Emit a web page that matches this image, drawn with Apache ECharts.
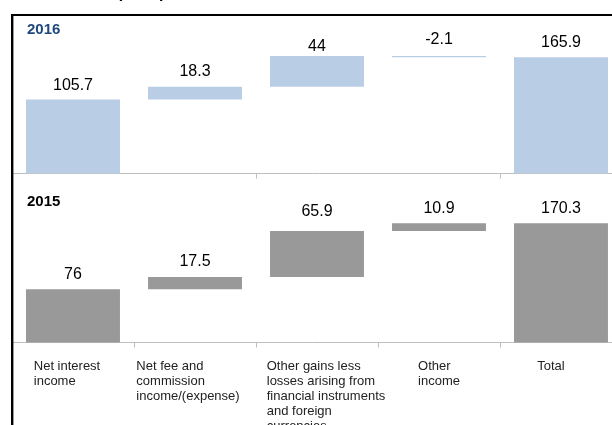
<!DOCTYPE html>
<html>
<head>
<meta charset="utf-8">
<script src="https://cdn.jsdelivr.net/npm/echarts@6/dist/echarts.min.js"></script>
<style>
html,body{margin:0;padding:0;background:#fff;}
#chart{width:612px;height:425px;}
</style>
</head>
<body>
<div id="chart"></div>
<script>
const categories = [
  'Net interest\nincome',
  'Net fee and\ncommission\nincome/(expense)',
  'Other gains less\nlosses arising from\nfinancial instruments\nand foreign\ncurrencies',
  'Other\nincome',
  'Total'
];
const values2016 = [105.7, 18.3, 44, -2.1, 165.9];
const values2015 = [76, 17.5, 65.9, 10.9, 170.3];
const panelTitles = ['2016', '2015'];

function waterfall(vals) {
  const base = [], height = [];
  let run = 0;
  vals.forEach((v, i) => {
    if (i === vals.length - 1) { base.push(0); height.push(v); }
    else {
      const next = run + v;
      base.push(Math.min(run, next));
      height.push(Math.abs(v));
      run = next;
    }
  });
  return { base, height };
}

const font = 'Liberation Sans, Arial, sans-serif';
const w16 = waterfall(values2016);
const w15 = waterfall(values2015);
// label styling tweaks (pixels)
const labelOffsets16 = [1, 0, 6, -1, 0];
const labelOffsets15 = [0, 0, -4, 0, 0];
const catLabelShift = [-6, -7, 9, 0, -10];

function visibleData(h, vals, offs) {
  return h.map((v, i) => ({
    value: v,
    label: { offset: [0, offs[i]], formatter: String(vals[i]) }
  }));
}

const rich = {};
catLabelShift.forEach((s, i) => {
  rich['c' + i] = {
    align: 'left', fontSize: 13, lineHeight: 15, color: '#222', fontFamily: font,
    padding: [0, s < 0 ? -2 * s : 0, 0, s > 0 ? 2 * s : 0]
  };
});

const axisCommon = {
  type: 'category',
  data: categories,
  axisLine: { lineStyle: { color: '#BFBFBF', width: 1 } },
  axisTick: { show: true, length: 5, lineStyle: { color: '#BFBFBF' } },
  splitLine: { show: false }
};

const chart = echarts.init(document.getElementById('chart'), null, { renderer: 'canvas' });
chart.setOption({
  animation: false,
  backgroundColor: '#fff',
  textStyle: { fontFamily: font },
  grid: [
    { left: 12, width: 610, top: 33.5, height: 140, outerBoundsMode: 'none', containLabel: false },
    { left: 12, width: 610, top: 202.5, height: 140, outerBoundsMode: 'none', containLabel: false }
  ],
  xAxis: [
    Object.assign({}, axisCommon, { gridIndex: 0, axisLabel: { show: false } }),
    Object.assign({}, axisCommon, {
      gridIndex: 1,
      axisLabel: {
        show: true, interval: 0, margin: 16, align: 'center', hideOverlap: false,
        formatter: (v, idx) => v.split('\n').map(s => '{c' + idx + '|' + s + '}').join('\n'),
        rich: rich
      }
    })
  ],
  yAxis: [
    { type: 'value', gridIndex: 0, min: 0, max: 200, show: false },
    { type: 'value', gridIndex: 1, min: 0, max: 200, show: false }
  ],
  series: [
    { type: 'bar', xAxisIndex: 0, yAxisIndex: 0, stack: 'a', data: w16.base,
      itemStyle: { color: 'transparent' }, barWidth: '77%', silent: true },
    { type: 'bar', xAxisIndex: 0, yAxisIndex: 0, stack: 'a',
      data: visibleData(w16.height, values2016, labelOffsets16),
      itemStyle: { color: '#B9CDE5' }, barWidth: '77%',
      label: { show: true, position: 'top', distance: 7, fontSize: 16, color: '#000', fontFamily: font } },
    { type: 'bar', xAxisIndex: 1, yAxisIndex: 1, stack: 'b', data: w15.base,
      itemStyle: { color: 'transparent' }, barWidth: '77%', silent: true },
    { type: 'bar', xAxisIndex: 1, yAxisIndex: 1, stack: 'b',
      data: visibleData(w15.height, values2015, labelOffsets15),
      itemStyle: { color: '#999999' }, barWidth: '77%',
      label: { show: true, position: 'top', distance: 7, fontSize: 16, color: '#000', fontFamily: font } }
  ],
  graphic: [
    { type: 'line', shape: { x1: 12.2, y1: 14, x2: 12.2, y2: 425 }, style: { stroke: '#000', lineWidth: 2.4 }, z: 100 },
    { type: 'line', shape: { x1: 11, y1: 15, x2: 612, y2: 15 }, style: { stroke: '#000', lineWidth: 2 }, z: 100 },
    { type: 'text', left: 27, top: 22, style: { text: panelTitles[0], font: 'bold 15px ' + font, fill: '#1F497D' } },
    { type: 'text', left: 27, top: 194, style: { text: panelTitles[1], font: 'bold 15px ' + font, fill: '#000' } },
    { type: 'text', left: 117, top: -14, style: { text: '(€ mn)', font: 'bold 16px ' + font, fill: '#000' } }
  ]
});
</script>
</body>
</html>
